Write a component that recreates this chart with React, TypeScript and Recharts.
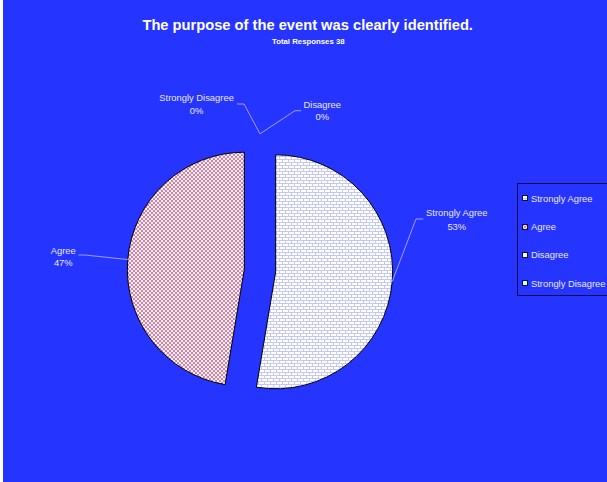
import { PieChart, Pie, Cell, Sector, Legend } from "recharts";

const categories = ["Strongly Agree", "Agree", "Disagree", "Strongly Disagree"];
const responses = [20, 18, 0, 0];
const sliceFills = ["url(#saFill)", "url(#agFill)", "#ffffcc", "#ccffff"];

const data = categories.map((name, i) => ({ name, value: responses[i] }));
const total = responses.reduce((a, b) => a + b, 0);

const RADIAN = Math.PI / 180;
const FONT = "'Liberation Sans', Arial, sans-serif";
const BLUE = "#2634ff";
const EXPLODE = 15.7;
const RADIUS = 117;

// label placement relative to the pie centre (elbow, end of leader, text centre, two text rows)
const labelLayout: Record<string, { elbow: number[]; end: number[]; tx: number; y1: number; y2: number }> = {
  "Strongly Agree": { elbow: [156, -51.5], end: [163.3, -51.5], tx: 196.8, y1: -58.2, y2: -44.5 },
  Agree: { elbow: [-175, -15.5], end: [-181.7, -15.5], tx: -196.7, y1: -20.5, y2: -8.2 },
  "Strongly Disagree": { elbow: [-16, -166.5], end: [-23, -166.5], tx: -63.4, y1: -173.2, y2: -159.8 },
  Disagree: { elbow: [35, -159.8], end: [41, -159.8], tx: 62.3, y1: -166.5, y2: -154.5 },
};

const ExplodedSlice = (props: any) => {
  const { cx, cy, innerRadius, outerRadius, startAngle, endAngle, midAngle, fill } = props;
  if (startAngle === endAngle) return null;
  const dx = EXPLODE * Math.cos(-midAngle * RADIAN);
  const dy = EXPLODE * Math.sin(-midAngle * RADIAN);
  return (
    <Sector
      cx={cx + dx}
      cy={cy + dy}
      innerRadius={innerRadius}
      outerRadius={outerRadius}
      startAngle={startAngle}
      endAngle={endAngle}
      fill={fill}
      stroke="#000"
      strokeWidth={1}
    />
  );
};

const renderLabel = (props: any) => {
  const { cx, cy, midAngle = 90, outerRadius, percent = 0, name } = props;
  const lay = labelLayout[name];
  if (!lay) return null;
  const r = outerRadius + EXPLODE + (percent === 0 ? 4 : 0);
  const sx = cx + r * Math.cos(-midAngle * RADIAN);
  const sy = cy + r * Math.sin(-midAngle * RADIAN);
  return (
    <g>
      <polyline
        points={`${sx},${sy} ${cx + lay.elbow[0]},${cy + lay.elbow[1]} ${cx + lay.end[0]},${cy + lay.end[1]}`}
        fill="none"
        stroke="#b8bcff"
        strokeWidth={0.8}
      />
      <text x={cx + lay.tx} y={cy + lay.y1} fill="#e6e8ff" fontSize={9.4} fontFamily={FONT} textAnchor="middle" dominantBaseline="central">
        {name}
      </text>
      <text x={cx + lay.tx} y={cy + lay.y2} fill="#e6e8ff" fontSize={9.4} fontFamily={FONT} textAnchor="middle" dominantBaseline="central">
        {`${Math.round(percent * 100)}%`}
      </text>
    </g>
  );
};

const LegendBox = () => (
  <div
    style={{
      border: "1px solid #0c0c50",
      width: 96,
      height: 113,
      boxSizing: "border-box",
      fontFamily: FONT,
      fontSize: 9.4,
      color: "#e6e8ff",
    }}
  >
    {categories.map((name, i) => (
      <div key={name} style={{ height: 28.4, display: "flex", alignItems: "center", whiteSpace: "nowrap" }}>
        <svg width={6} height={6} style={{ marginLeft: 4, marginRight: 3 }}>
          <rect x={0.5} y={0.5} width={5} height={5} fill={sliceFills[i]} stroke="#101040" strokeWidth={1} />
        </svg>
        <span>{name}</span>
      </div>
    ))}
  </div>
);

const App = () => (
  <div style={{ position: "absolute", left: 0, top: 0, width: 607, height: 482, background: "#fff", overflow: "hidden" }}>
    <div style={{ position: "absolute", left: 3, top: 0, width: 604, height: 482, background: BLUE }}>
      <PieChart width={604} height={482} margin={{ top: 0, right: 0, bottom: 0, left: 0 }}>
        <defs>
          <pattern id="saFill" width={6} height={6} patternUnits="userSpaceOnUse">
            <rect width={6} height={6} fill="#ffffff" />
            <rect x={0} y={0} width={6} height={1} fill="#c4c8f6" />
            <rect x={0} y={3} width={6} height={1} fill="#c4c8f6" />
            <rect x={0} y={0} width={1} height={3} fill="#c4c8f6" />
            <rect x={3} y={3} width={1} height={3} fill="#c4c8f6" />
          </pattern>
          <pattern id="agFill" width={4} height={4} patternUnits="userSpaceOnUse">
            <rect width={4} height={4} fill="#f8eef2" />
            <rect x={0} y={0} width={2} height={2} fill="#cc86a3" />
            <rect x={2} y={2} width={2} height={2} fill="#cc86a3" />
          </pattern>
        </defs>
        <text x={304.7} y={30.3} fill="#fff" fontSize={14.7} fontWeight="bold" fontFamily={FONT} textAnchor="middle">
          The purpose of the event was clearly identified.
        </text>
        <text x={305.3} y={43.5} fill="#fff" fontSize={7.8} fontWeight="bold" fontFamily={FONT} textAnchor="middle">
          {`Total Responses ${total}`}
        </text>
        <Pie
          data={data}
          dataKey="value"
          nameKey="name"
          cx={257}
          cy={270.5}
          outerRadius={RADIUS}
          startAngle={90}
          endAngle={-270}
          shape={ExplodedSlice}
          label={renderLabel}
          labelLine={false}
          isAnimationActive={false}
        >
          {data.map((entry, i) => (
            <Cell key={entry.name} fill={sliceFills[i]} />
          ))}
        </Pie>
        <Legend
          layout="vertical"
          align="right"
          verticalAlign="middle"
          content={() => <LegendBox />}
          wrapperStyle={{ left: 514, top: 183, width: 96, right: "auto", bottom: "auto" }}
        />
      </PieChart>
    </div>
  </div>
);

export default App;
